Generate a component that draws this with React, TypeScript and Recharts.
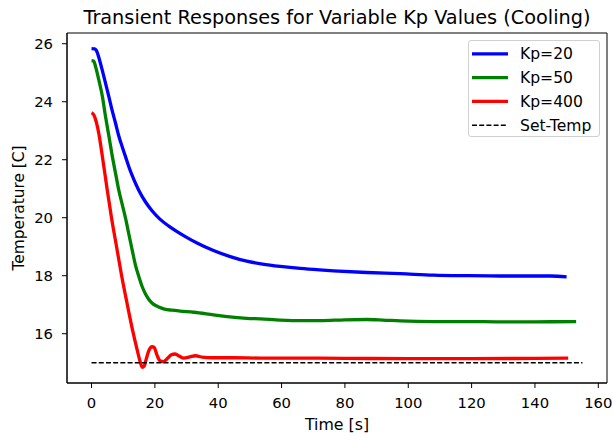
import React from 'react'
import { LineChart, Line, XAxis, YAxis, ReferenceArea } from 'recharts'

// ── Datos (t en s, v en °C) ─────────────────────────────────
const kp20 = [
  [0, 25.83], [1, 25.82], [1.5, 25.77], [2.5, 25.45], [3.4, 25.08], [4.5, 24.6],
  [5.5, 24.16], [6.5, 23.7], [7.6, 23.25], [8.6, 22.82], [9.7, 22.44], [10.8, 22.08],
  [11.8, 21.75], [13.3, 21.33], [14.9, 20.95], [17, 20.55], [19.1, 20.24], [21.5, 19.96],
  [24.4, 19.71], [27, 19.52], [29.6, 19.35], [33.3, 19.13], [38.5, 18.87], [43.8, 18.66],
  [49, 18.5], [54, 18.4], [59.6, 18.32], [65.9, 18.25], [72, 18.2], [76.4, 18.17],
  [86.9, 18.11], [97.5, 18.07], [108, 18.02], [118.5, 18.0], [129, 17.99], [139.5, 17.99],
  [145, 17.99], [150, 17.96],
]

const kp50 = [
  [0, 25.42], [0.7, 25.4], [1.3, 25.2], [2.3, 24.75], [3.4, 24.2], [4.4, 23.5],
  [5.5, 22.8], [6.5, 22.15], [7.6, 21.52], [8.6, 20.95], [9.7, 20.45], [10.8, 19.95],
  [11.8, 19.42], [12.9, 18.85], [13.9, 18.35], [15, 17.95], [16, 17.62], [17, 17.38],
  [18.1, 17.18], [19.5, 17.02], [21.2, 16.92], [23, 16.85], [25.4, 16.81], [28, 16.78],
  [32.3, 16.74], [38.5, 16.65], [42.8, 16.59], [49, 16.53], [53.3, 16.51], [59.6, 16.47],
  [66, 16.45], [72.2, 16.45], [80, 16.48], [86.9, 16.49], [92, 16.47], [97.5, 16.44],
  [108, 16.42], [116.4, 16.42], [129, 16.41], [140, 16.41], [153, 16.42],
]

const kp400 = [
  [0, 23.62], [0.7, 23.55], [1.5, 23.3], [2.3, 22.9], [3.5, 22.05], [4.9, 21.0],
  [6.3, 20.0], [7.9, 19.0], [9.5, 18.0], [11.3, 17.0], [13.2, 16.0], [14.5, 15.4],
  [15.3, 15.05], [16, 14.84], [16.6, 14.88], [17.4, 15.18], [18.1, 15.42], [19.1, 15.55],
  [19.8, 15.52], [20.7, 15.25], [21.6, 15.07], [22.7, 15.04], [24, 15.15], [25.2, 15.27],
  [26.4, 15.3], [27.8, 15.22], [29.1, 15.16], [31, 15.2], [32.8, 15.24], [35, 15.19],
  [38, 15.17], [45, 15.17], [53, 15.16], [60, 15.16], [80, 15.15], [100, 15.14],
  [120, 15.14], [140, 15.15], [150.5, 15.16],
]

const setTemp = [[0, 15], [155, 15]]

const xTicks = [0, 20, 40, 60, 80, 100, 120, 140, 160]
const yTicks = [16, 18, 20, 22, 24, 26]

const series = [
  { name: 'Kp=20', points: kp20, color: '#0000ff' },
  { name: 'Kp=50', points: kp50, color: '#008000' },
  { name: 'Kp=400', points: kp400, color: '#ff0000' },
]

const toRows = (pts: number[][]) => pts.map(([t, v]) => ({ t, v }))

const FONT = '"DejaVu Sans", sans-serif'
const tickStyle = { fill: '#000', fontSize: 14.8, fontFamily: FONT }

function LegendBox() {
  const rows = [
    ...series.map((s) => ({ name: s.name, color: s.color, dash: false })),
    { name: 'Set-Temp', color: '#000', dash: true },
  ]
  return (
    <div style={{
      position: 'absolute', left: 468, top: 40, width: 132, height: 97,
      border: '1px solid #d0d0d0', borderRadius: 3, background: 'rgba(255,255,255,0.85)',
      boxSizing: 'border-box',
    }}>
      <svg width={132} height={97} style={{ position: 'absolute', left: -1, top: -1, overflow: 'visible' }}>
        {rows.map((r, i) => {
          const y = 13.8 + i * 23.8
          return (
            <g key={r.name}>
              <line x1={4} x2={40} y1={y} y2={y} stroke={r.color}
                strokeWidth={r.dash ? 1.4 : 3.3} strokeDasharray={r.dash ? '5 2.2' : undefined} />
              <text x={52} y={y + 5.6} fontSize={15.6} fontFamily={FONT} fill="#000">{r.name}</text>
            </g>
          )
        })}
      </svg>
    </div>
  )
}

export default function App() {
  return (
    <div style={{ position: 'absolute', left: 0, top: 0, width: 613, height: 436, background: '#fff' }}>
      <LineChart width={613} height={436} margin={{ top: 33, right: 6, bottom: 0, left: 0 }}>
        <XAxis
          type="number" dataKey="t" domain={[-7.75, 162.75]} ticks={xTicks} allowDataOverflow
          height={53} tickSize={5} tickMargin={9} tick={tickStyle}
          stroke="#000" axisLine={{ stroke: '#000' }} tickLine={{ stroke: '#000' }}
        />
        <YAxis
          type="number" domain={[14.3, 26.37]} ticks={yTicks} allowDataOverflow
          width={67} tickSize={5} tickMargin={9} tick={tickStyle}
          stroke="#000" axisLine={{ stroke: '#000' }} tickLine={{ stroke: '#000' }}
        />
        <ReferenceArea x1={-7.75} x2={162.75} y1={14.3} y2={26.37} fill="none" stroke="#000" strokeWidth={1} />
        {series.map((s) => (
          <Line key={s.name} data={toRows(s.points)} dataKey="v" name={s.name} type="monotone"
            stroke={s.color} strokeWidth={3.3} dot={false} isAnimationActive={false} />
        ))}
        <Line data={toRows(setTemp)} dataKey="v" name="Set-Temp" type="linear"
          stroke="#000" strokeWidth={1.4} strokeDasharray="5 2.2" dot={false} isAnimationActive={false} />
      </LineChart>
      <svg width={613} height={436} style={{ position: 'absolute', left: 0, top: 0, pointerEvents: 'none' }}>
        <text x={337} y={23.5} textAnchor="middle" fontSize={19.3} fontFamily={FONT} fill="#000">
          Transient Responses for Variable Kp Values (Cooling)
        </text>
        <text x={337} y={430} textAnchor="middle" fontSize={15.8} fontFamily={FONT} fill="#000">Time [s]</text>
        <text x={24} y={208} textAnchor="middle" fontSize={15.4} fontFamily={FONT} fill="#000"
          transform="rotate(-90, 24, 208)">Temperature [C]</text>
      </svg>
      <LegendBox />
    </div>
  )
}
